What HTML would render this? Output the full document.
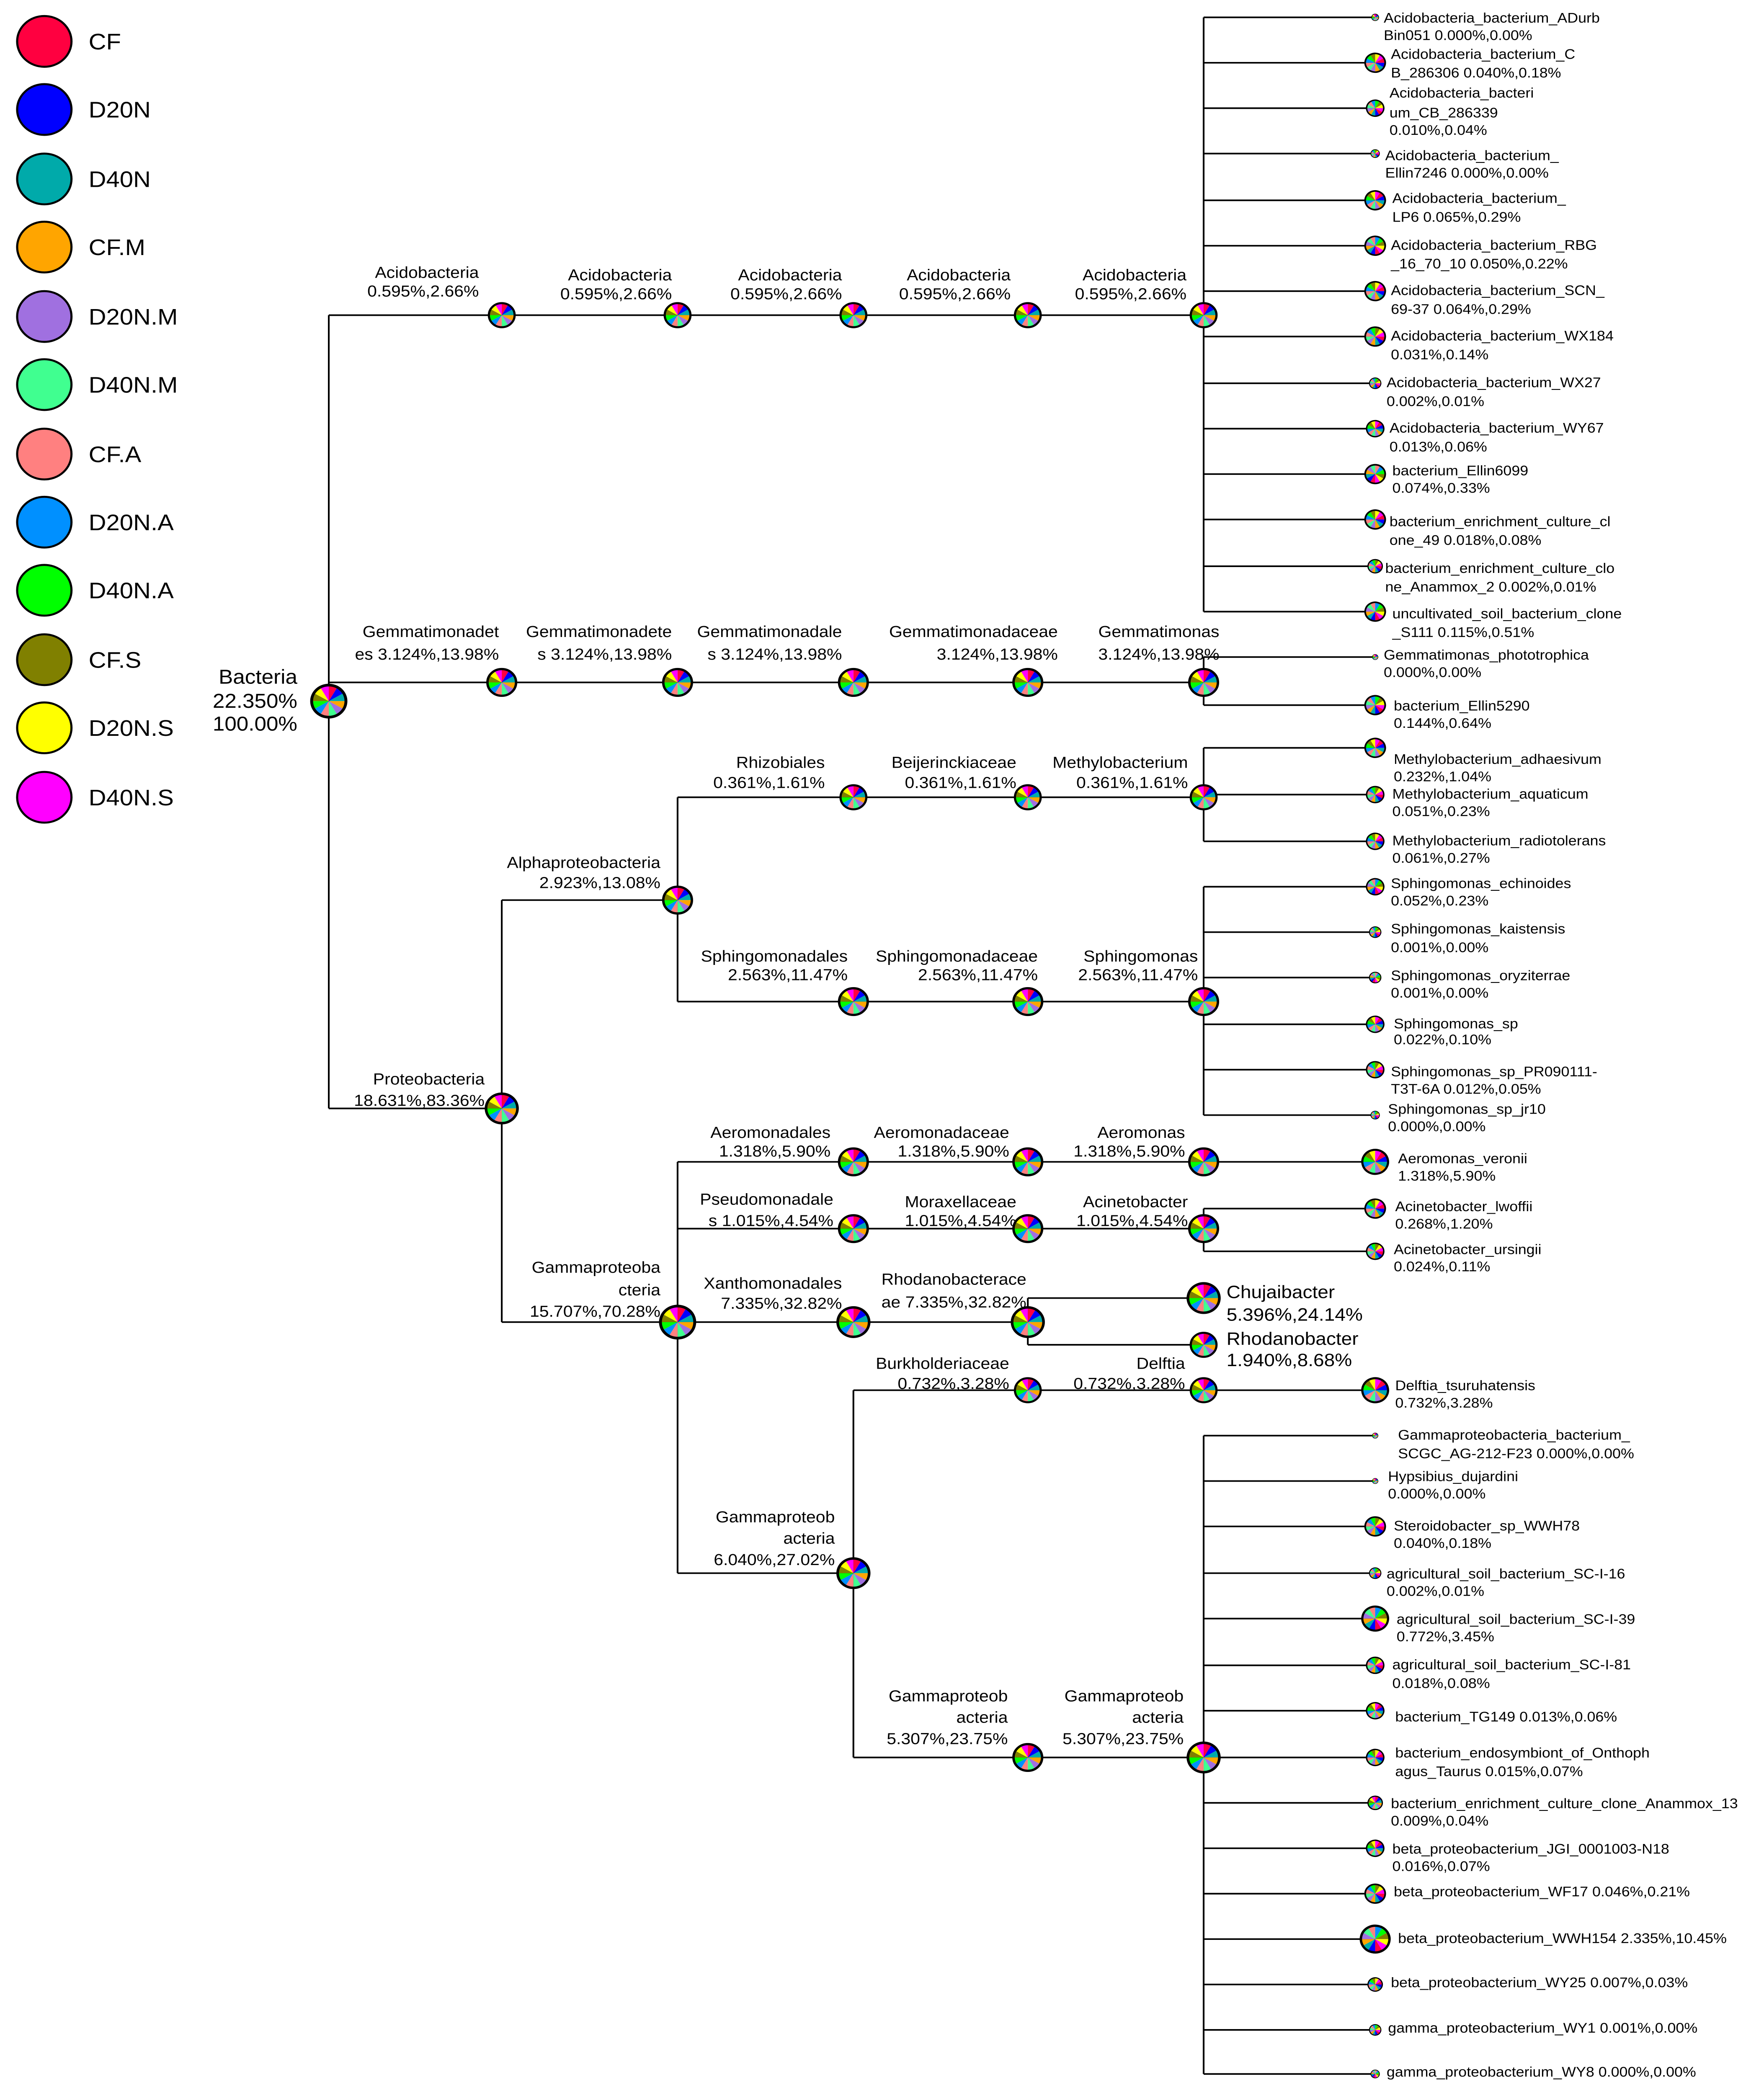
<!DOCTYPE html>
<html><head><meta charset="utf-8"><style>
html,body{margin:0;padding:0;background:#fff;width:100%;height:100%;overflow:hidden;}
svg{display:block;width:100vw;height:100vh;}
text{font-family:"Liberation Sans",sans-serif;fill:#000;}
.n{font-size:12px;}
.l{font-size:10.5px;}
.e{text-anchor:end;}
</style></head><body>
<svg viewBox="0 0 1234 1568" preserveAspectRatio="none" xmlns="http://www.w3.org/2000/svg">
<defs>
<g id="p">
<path d="M0 0L0 -1A1 1 0 0 1 .5 -.866Z" fill="#ff0040"/>
<path d="M0 0L.5 -.866A1 1 0 0 1 .866 -.5Z" fill="#0000ff"/>
<path d="M0 0L.866 -.5A1 1 0 0 1 1 0Z" fill="#00aaaa"/>
<path d="M0 0L1 0A1 1 0 0 1 .866 .5Z" fill="#ffa500"/>
<path d="M0 0L.866 .5A1 1 0 0 1 .5 .866Z" fill="#a070e0"/>
<path d="M0 0L.5 .866A1 1 0 0 1 0 1Z" fill="#40ff90"/>
<path d="M0 0L0 1A1 1 0 0 1 -.5 .866Z" fill="#ff8080"/>
<path d="M0 0L-.5 .866A1 1 0 0 1 -.866 .5Z" fill="#0090ff"/>
<path d="M0 0L-.866 .5A1 1 0 0 1 -1 0Z" fill="#00ff00"/>
<path d="M0 0L-1 0A1 1 0 0 1 -.866 -.5Z" fill="#808000"/>
<path d="M0 0L-.866 -.5A1 1 0 0 1 -.5 -.866Z" fill="#ffff00"/>
<path d="M0 0L-.5 -.866A1 1 0 0 1 0 -1Z" fill="#ff00ff"/>
<circle r="1" fill="none" stroke="#000" stroke-width="0.17"/>
</g>
</defs>

<g stroke="#000" stroke-width="1.5">
<circle cx="31" cy="31" r="19" fill="#ff0040"/>
<circle cx="31" cy="82" r="19" fill="#0000ff"/>
<circle cx="31" cy="134" r="19" fill="#00aaaa"/>
<circle cx="31" cy="185" r="19" fill="#ffa500"/>
<circle cx="31" cy="237" r="19" fill="#a070e0"/>
<circle cx="31" cy="288" r="19" fill="#40ff90"/>
<circle cx="31" cy="340" r="19" fill="#ff8080"/>
<circle cx="31" cy="391" r="19" fill="#0090ff"/>
<circle cx="31" cy="442" r="19" fill="#00ff00"/>
<circle cx="31" cy="494" r="19" fill="#808000"/>
<circle cx="31" cy="545" r="19" fill="#ffff00"/>
<circle cx="31" cy="597" r="19" fill="#ff00ff"/>
</g>
<g style="font-size:17px">
<text x="62" y="37">CF</text>
<text x="62" y="88">D20N</text>
<text x="62" y="140">D40N</text>
<text x="62" y="191">CF.M</text>
<text x="62" y="243">D20N.M</text>
<text x="62" y="294">D40N.M</text>
<text x="62" y="346">CF.A</text>
<text x="62" y="397">D20N.A</text>
<text x="62" y="448">D40N.A</text>
<text x="62" y="500">CF.S</text>
<text x="62" y="551">D20N.S</text>
<text x="62" y="603">D40N.S</text>
</g>

<g stroke="#000" stroke-width="1.2" fill="none">
<path d="M230 236V830M230 236H842M230 511H842M230 830H351"/>
<path d="M842 13V458M842 13H962M842 47H962M842 81H962M842 115H962M842 150H962M842 184H962M842 218H962M842 252H962M842 287H962M842 321H962M842 355H962M842 389H962M842 424H962M842 458H962"/>
<path d="M842 492V528M842 492H962M842 528H962"/>
<path d="M351 674V990M351 674H474M474 597V750M474 597H842M474 750H842"/>
<path d="M842 560V630M842 560H962M842 595H962M842 630H962"/>
<path d="M842 664V835M842 664H962M842 698H962M842 732H962M842 767H962M842 801H962M842 835H962"/>
<path d="M351 990H719M474 870V1178M474 870H962M474 920H842M842 905V937M842 905H962M842 937H962"/>
<path d="M719 972V1007M719 972H842M719 1007H842"/>
<path d="M474 1178H597M597 1041V1316M597 1041H962M597 1316H842"/>
<path d="M842 1075V1553M842 1075H962M842 1109H962M842 1143H962M842 1178H962M842 1212H962M842 1247H962M842 1281H962M842 1316H962M842 1350H962M842 1384H962M842 1418H962M842 1452H962M842 1486H962M842 1520H962M842 1553H962"/>
</g>

<use href="#p" transform="translate(230,525) scale(12)"/>
<use href="#p" transform="translate(351,236) scale(9)"/>
<use href="#p" transform="translate(474,236) scale(9)"/>
<use href="#p" transform="translate(597,236) scale(9)"/>
<use href="#p" transform="translate(719,236) scale(9)"/>
<use href="#p" transform="translate(842,236) scale(9)"/>
<use href="#p" transform="translate(351,511) scale(10)"/>
<use href="#p" transform="translate(474,511) scale(10)"/>
<use href="#p" transform="translate(597,511) scale(10)"/>
<use href="#p" transform="translate(719,511) scale(10)"/>
<use href="#p" transform="translate(842,511) scale(10)"/>
<use href="#p" transform="translate(351,830) scale(11)"/>
<use href="#p" transform="translate(474,674) scale(10)"/>
<use href="#p" transform="translate(597,597) scale(9)"/>
<use href="#p" transform="translate(719,597) scale(9)"/>
<use href="#p" transform="translate(842,597) scale(9)"/>
<use href="#p" transform="translate(597,750) scale(10)"/>
<use href="#p" transform="translate(719,750) scale(10)"/>
<use href="#p" transform="translate(842,750) scale(10)"/>
<use href="#p" transform="translate(474,990) scale(12)"/>
<use href="#p" transform="translate(597,870) scale(10)"/>
<use href="#p" transform="translate(719,870) scale(10)"/>
<use href="#p" transform="translate(842,870) scale(10)"/>
<use href="#p" transform="translate(597,920) scale(10)"/>
<use href="#p" transform="translate(719,920) scale(10)"/>
<use href="#p" transform="translate(842,920) scale(10)"/>
<use href="#p" transform="translate(597,990) scale(11)"/>
<use href="#p" transform="translate(719,990) scale(11)"/>
<use href="#p" transform="translate(842,972) scale(11)"/>
<use href="#p" transform="translate(842,1007) scale(9)"/>
<use href="#p" transform="translate(597,1178) scale(11)"/>
<use href="#p" transform="translate(719,1041) scale(9)"/>
<use href="#p" transform="translate(842,1041) scale(9)"/>
<use href="#p" transform="translate(719,1316) scale(10)"/>
<use href="#p" transform="translate(842,1316) scale(11)"/>

<use href="#p" transform="translate(962,13) scale(2.5)"/>
<use href="#p" transform="translate(962,47) scale(7) rotate(60)"/>
<use href="#p" transform="translate(962,81) scale(6) rotate(120)"/>
<use href="#p" transform="translate(962,115) scale(3) rotate(90)"/>
<use href="#p" transform="translate(962,150) scale(7) rotate(30)"/>
<use href="#p" transform="translate(962,184) scale(7) rotate(150)"/>
<use href="#p" transform="translate(962,218) scale(7) rotate(60)"/>
<use href="#p" transform="translate(962,252) scale(7) rotate(90)"/>
<use href="#p" transform="translate(962,287) scale(4) rotate(120)"/>
<use href="#p" transform="translate(962,321) scale(6) rotate(30)"/>
<use href="#p" transform="translate(962,355) scale(7) rotate(180)"/>
<use href="#p" transform="translate(962,389) scale(7) rotate(60)"/>
<use href="#p" transform="translate(962,424) scale(5) rotate(90)"/>
<use href="#p" transform="translate(962,458) scale(7) rotate(150)"/>
<use href="#p" transform="translate(962,492) scale(2)"/>
<use href="#p" transform="translate(962,528) scale(7) rotate(120)"/>
<use href="#p" transform="translate(962,560) scale(7) rotate(30)"/>
<use href="#p" transform="translate(962,595) scale(6) rotate(90)"/>
<use href="#p" transform="translate(962,630) scale(6) rotate(60)"/>
<use href="#p" transform="translate(962,664) scale(6) rotate(150)"/>
<use href="#p" transform="translate(962,698) scale(4) rotate(120)"/>
<use href="#p" transform="translate(962,732) scale(4) rotate(180)"/>
<use href="#p" transform="translate(962,767) scale(6) rotate(30)"/>
<use href="#p" transform="translate(962,801) scale(6) rotate(90)"/>
<use href="#p" transform="translate(962,835) scale(3) rotate(120)"/>
<use href="#p" transform="translate(962,870) scale(9) rotate(30)"/>
<use href="#p" transform="translate(962,905) scale(7) rotate(60)"/>
<use href="#p" transform="translate(962,937) scale(6) rotate(90)"/>
<use href="#p" transform="translate(962,1041) scale(9) rotate(30)"/>
<use href="#p" transform="translate(962,1075) scale(2)"/>
<use href="#p" transform="translate(962,1109) scale(2)"/>
<use href="#p" transform="translate(962,1143) scale(7) rotate(90)"/>
<use href="#p" transform="translate(962,1178) scale(4) rotate(120)"/>
<use href="#p" transform="translate(962,1212) scale(9) rotate(150)"/>
<use href="#p" transform="translate(962,1247) scale(6) rotate(90)"/>
<use href="#p" transform="translate(962,1281) scale(6) rotate(30)"/>
<use href="#p" transform="translate(962,1316) scale(6) rotate(60)"/>
<use href="#p" transform="translate(962,1350) scale(5) rotate(0)"/>
<use href="#p" transform="translate(962,1384) scale(6) rotate(30)"/>
<use href="#p" transform="translate(962,1418) scale(7) rotate(90)"/>
<use href="#p" transform="translate(962,1452) scale(10) rotate(150)"/>
<use href="#p" transform="translate(962,1486) scale(5) rotate(60)"/>
<use href="#p" transform="translate(962,1520) scale(4) rotate(120)"/>
<use href="#p" transform="translate(962,1553) scale(3) rotate(180)"/>

<g style="font-size:15px">
<text x="208" y="512" class="e">Bacteria</text>
<text x="208" y="530" class="e">22.350%</text>
<text x="208" y="547" class="e">100.00%</text>
</g>

<g class="n">
<text x="335" y="208" class="e">Acidobacteria</text><text x="335" y="222" class="e">0.595%,2.66%</text>
<text x="470" y="210" class="e">Acidobacteria</text><text x="470" y="224" class="e">0.595%,2.66%</text>
<text x="589" y="210" class="e">Acidobacteria</text><text x="589" y="224" class="e">0.595%,2.66%</text>
<text x="707" y="210" class="e">Acidobacteria</text><text x="707" y="224" class="e">0.595%,2.66%</text>
<text x="830" y="210" class="e">Acidobacteria</text><text x="830" y="224" class="e">0.595%,2.66%</text>

<text x="349" y="477" class="e">Gemmatimonadet</text><text x="349" y="494" class="e">es 3.124%,13.98%</text>
<text x="470" y="477" class="e">Gemmatimonadete</text><text x="470" y="494" class="e">s 3.124%,13.98%</text>
<text x="589" y="477" class="e">Gemmatimonadale</text><text x="589" y="494" class="e">s 3.124%,13.98%</text>
<text x="740" y="477" class="e">Gemmatimonadaceae</text><text x="740" y="494" class="e">3.124%,13.98%</text>
<text x="853" y="477" class="e">Gemmatimonas</text><text x="853" y="494" class="e">3.124%,13.98%</text>

<text x="339" y="812" class="e">Proteobacteria</text><text x="339" y="828" class="e">18.631%,83.36%</text>
<text x="462" y="650" class="e">Alphaproteobacteria</text><text x="462" y="665" class="e">2.923%,13.08%</text>

<text x="577" y="575" class="e">Rhizobiales</text><text x="577" y="590" class="e">0.361%,1.61%</text>
<text x="711" y="575" class="e">Beijerinckiaceae</text><text x="711" y="590" class="e">0.361%,1.61%</text>
<text x="831" y="575" class="e">Methylobacterium</text><text x="831" y="590" class="e">0.361%,1.61%</text>

<text x="593" y="720" class="e">Sphingomonadales</text><text x="593" y="734" class="e">2.563%,11.47%</text>
<text x="726" y="720" class="e">Sphingomonadaceae</text><text x="726" y="734" class="e">2.563%,11.47%</text>
<text x="838" y="720" class="e">Sphingomonas</text><text x="838" y="734" class="e">2.563%,11.47%</text>

<text x="462" y="953" class="e">Gammaproteoba</text><text x="462" y="970" class="e">cteria</text><text x="462" y="986" class="e">15.707%,70.28%</text>

<text x="581" y="852" class="e">Aeromonadales</text><text x="581" y="866" class="e">1.318%,5.90%</text>
<text x="706" y="852" class="e">Aeromonadaceae</text><text x="706" y="866" class="e">1.318%,5.90%</text>
<text x="829" y="852" class="e">Aeromonas</text><text x="829" y="866" class="e">1.318%,5.90%</text>

<text x="583" y="902" class="e">Pseudomonadale</text><text x="583" y="918" class="e">s 1.015%,4.54%</text>
<text x="711" y="904" class="e">Moraxellaceae</text><text x="711" y="918" class="e">1.015%,4.54%</text>
<text x="831" y="904" class="e">Acinetobacter</text><text x="831" y="918" class="e">1.015%,4.54%</text>

<text x="589" y="965" class="e">Xanthomonadales</text><text x="589" y="980" class="e">7.335%,32.82%</text>
<text x="718" y="962" class="e">Rhodanobacterace</text><text x="718" y="979" class="e">ae 7.335%,32.82%</text>

<text x="584" y="1140" class="e">Gammaproteob</text><text x="584" y="1156" class="e">acteria</text><text x="584" y="1172" class="e">6.040%,27.02%</text>

<text x="706" y="1025" class="e">Burkholderiaceae</text><text x="706" y="1040" class="e">0.732%,3.28%</text>
<text x="829" y="1025" class="e">Delftia</text><text x="829" y="1040" class="e">0.732%,3.28%</text>

<text x="705" y="1274" class="e">Gammaproteob</text><text x="705" y="1290" class="e">acteria</text><text x="705" y="1306" class="e">5.307%,23.75%</text>
<text x="828" y="1274" class="e">Gammaproteob</text><text x="828" y="1290" class="e">acteria</text><text x="828" y="1306" class="e">5.307%,23.75%</text>
</g>

<g style="font-size:13.5px">
<text x="858" y="972">Chujaibacter</text><text x="858" y="989">5.396%,24.14%</text>
<text x="858" y="1007">Rhodanobacter</text><text x="858" y="1023">1.940%,8.68%</text>
</g>

<g class="l">
<text x="968" y="17">Acidobacteria_bacterium_ADurb</text><text x="968" y="30">Bin051 0.000%,0.00%</text>
<text x="973" y="44">Acidobacteria_bacterium_C</text><text x="973" y="58">B_286306 0.040%,0.18%</text>
<text x="972" y="73">Acidobacteria_bacteri</text><text x="972" y="88">um_CB_286339</text><text x="972" y="101">0.010%,0.04%</text>
<text x="969" y="120">Acidobacteria_bacterium_</text><text x="969" y="133">Ellin7246 0.000%,0.00%</text>
<text x="974" y="152">Acidobacteria_bacterium_</text><text x="974" y="166">LP6 0.065%,0.29%</text>
<text x="973" y="187">Acidobacteria_bacterium_RBG</text><text x="973" y="201">_16_70_10 0.050%,0.22%</text>
<text x="973" y="221">Acidobacteria_bacterium_SCN_</text><text x="973" y="235">69-37 0.064%,0.29%</text>
<text x="973" y="255">Acidobacteria_bacterium_WX184</text><text x="973" y="269">0.031%,0.14%</text>
<text x="970" y="290">Acidobacteria_bacterium_WX27</text><text x="970" y="304">0.002%,0.01%</text>
<text x="972" y="324">Acidobacteria_bacterium_WY67</text><text x="972" y="338">0.013%,0.06%</text>
<text x="974" y="356">bacterium_Ellin6099</text><text x="974" y="369">0.074%,0.33%</text>
<text x="972" y="394">bacterium_enrichment_culture_cl</text><text x="972" y="408">one_49 0.018%,0.08%</text>
<text x="969" y="429">bacterium_enrichment_culture_clo</text><text x="969" y="443">ne_Anammox_2 0.002%,0.01%</text>
<text x="974" y="463">uncultivated_soil_bacterium_clone</text><text x="974" y="477">_S111 0.115%,0.51%</text>
<text x="968" y="494">Gemmatimonas_phototrophica</text><text x="968" y="507">0.000%,0.00%</text>
<text x="975" y="532">bacterium_Ellin5290</text><text x="975" y="545">0.144%,0.64%</text>
<text x="975" y="572">Methylobacterium_adhaesivum</text><text x="975" y="585">0.232%,1.04%</text>
<text x="974" y="598">Methylobacterium_aquaticum</text><text x="974" y="611">0.051%,0.23%</text>
<text x="974" y="633">Methylobacterium_radiotolerans</text><text x="974" y="646">0.061%,0.27%</text>
<text x="973" y="665">Sphingomonas_echinoides</text><text x="973" y="678">0.052%,0.23%</text>
<text x="973" y="699">Sphingomonas_kaistensis</text><text x="973" y="713">0.001%,0.00%</text>
<text x="973" y="734">Sphingomonas_oryziterrae</text><text x="973" y="747">0.001%,0.00%</text>
<text x="975" y="770">Sphingomonas_sp</text><text x="975" y="782">0.022%,0.10%</text>
<text x="973" y="806">Sphingomonas_sp_PR090111-</text><text x="973" y="819">T3T-6A 0.012%,0.05%</text>
<text x="971" y="834">Sphingomonas_sp_jr10</text><text x="971" y="847">0.000%,0.00%</text>
<text x="978" y="871">Aeromonas_veronii</text><text x="978" y="884">1.318%,5.90%</text>
<text x="976" y="907">Acinetobacter_lwoffii</text><text x="976" y="920">0.268%,1.20%</text>
<text x="975" y="939">Acinetobacter_ursingii</text><text x="975" y="952">0.024%,0.11%</text>
<text x="976" y="1041">Delftia_tsuruhatensis</text><text x="976" y="1054">0.732%,3.28%</text>
<text x="978" y="1078">Gammaproteobacteria_bacterium_</text><text x="978" y="1092">SCGC_AG-212-F23 0.000%,0.00%</text>
<text x="971" y="1109">Hypsibius_dujardini</text><text x="971" y="1122">0.000%,0.00%</text>
<text x="975" y="1146">Steroidobacter_sp_WWH78</text><text x="975" y="1159">0.040%,0.18%</text>
<text x="970" y="1182">agricultural_soil_bacterium_SC-I-16</text><text x="970" y="1195">0.002%,0.01%</text>
<text x="977" y="1216">agricultural_soil_bacterium_SC-I-39</text><text x="977" y="1229">0.772%,3.45%</text>
<text x="974" y="1250">agricultural_soil_bacterium_SC-I-81</text><text x="974" y="1264">0.018%,0.08%</text>
<text x="976" y="1289">bacterium_TG149 0.013%,0.06%</text>
<text x="976" y="1316">bacterium_endosymbiont_of_Onthoph</text><text x="976" y="1330">agus_Taurus 0.015%,0.07%</text>
<text x="973" y="1354">bacterium_enrichment_culture_clone_Anammox_13</text><text x="973" y="1367">0.009%,0.04%</text>
<text x="974" y="1388">beta_proteobacterium_JGI_0001003-N18</text><text x="974" y="1401">0.016%,0.07%</text>
<text x="975" y="1420">beta_proteobacterium_WF17 0.046%,0.21%</text>
<text x="978" y="1455">beta_proteobacterium_WWH154 2.335%,10.45%</text>
<text x="973" y="1488">beta_proteobacterium_WY25 0.007%,0.03%</text>
<text x="971" y="1522">gamma_proteobacterium_WY1 0.001%,0.00%</text>
<text x="970" y="1555">gamma_proteobacterium_WY8 0.000%,0.00%</text>
</g>
</svg>
</body></html>
